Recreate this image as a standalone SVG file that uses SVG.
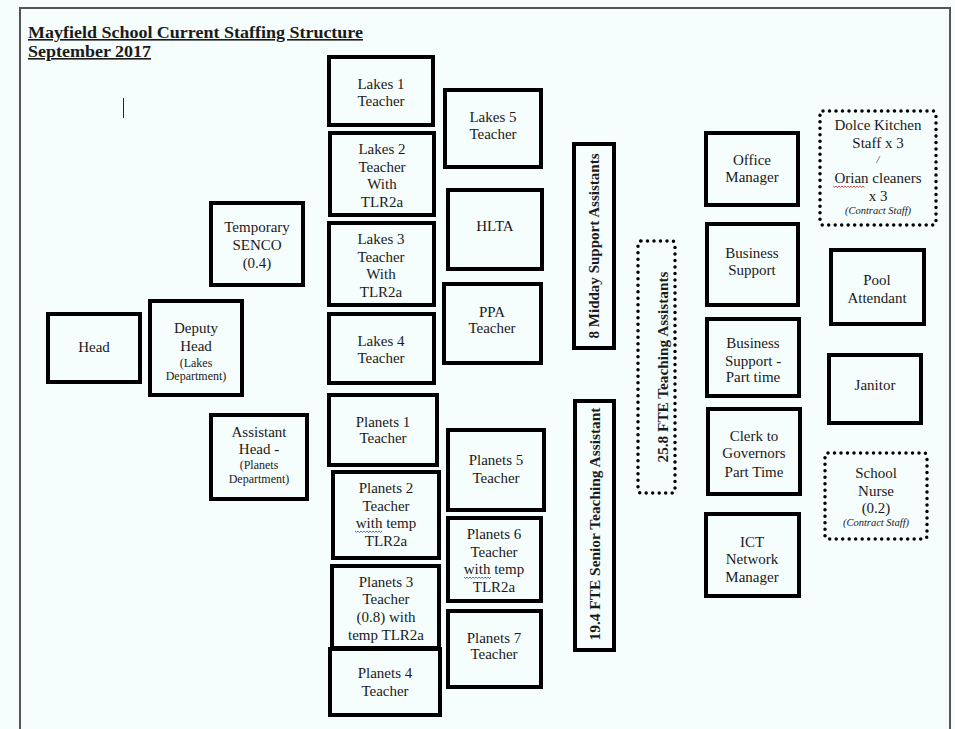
<svg xmlns="http://www.w3.org/2000/svg" width="955" height="729" viewBox="0 0 955 729">
<style>
text{font-family:"Liberation Serif",Tinos,"Times New Roman","DejaVu Serif",serif;fill:#1a1a1a;font-size:15px;text-anchor:middle}
.box{fill:none;stroke:#000;stroke-width:4}
.dot{fill:none;stroke:#000;stroke-width:3.5;stroke-dasharray:0 6.5;stroke-linecap:round;stroke-linejoin:round}
.sm{font-size:12px}
.it{font-size:10.5px;font-style:italic}
.vt{font-weight:bold;font-size:14px}
.ttl{font-weight:bold;font-size:16px;text-anchor:start;text-decoration:underline}
.wavy{fill:none;stroke-width:0.8}
</style>
<rect x="0" y="0" width="955" height="729" fill="#f6fdfd"/>
<path d="M20 729V8H950V729" fill="none" stroke="#555" stroke-width="2"/>
<g id="title">
<text class="ttl" x="28" y="38" textLength="335" lengthAdjust="spacingAndGlyphs">Mayfield School Current Staffing Structure</text>
<text class="ttl" x="28" y="57" textLength="123" lengthAdjust="spacingAndGlyphs">September 2017</text>
<line x1="123.5" y1="98" x2="123.5" y2="118" stroke="#222" stroke-width="1"/>
</g>
<g id="connectors"></g>
<g id="head"><rect class="box" x="48" y="314" width="92" height="68"/><text x="94" y="352">Head</text></g>
<g id="deputy-head"><rect class="box" x="150" y="301" width="92" height="94"/><text x="196" y="333">Deputy</text><text x="196" y="351">Head</text><text class="sm" x="196" y="367">(Lakes</text><text class="sm" x="196" y="380">Department)</text></g>
<g id="senco"><rect class="box" x="211" y="203" width="92" height="82"/><text x="257" y="232">Temporary</text><text x="257" y="250">SENCO</text><text x="257" y="268">(0.4)</text></g>
<g id="assistant-head"><rect class="box" x="211" y="415" width="96" height="84"/><text x="259" y="437">Assistant</text><text x="259" y="454">Head -</text><text class="sm" x="259" y="469">(Planets</text><text class="sm" x="259" y="483">Department)</text></g>
<g id="lakes1"><rect class="box" x="329" y="57" width="104" height="68"/><text x="381" y="89">Lakes 1</text><text x="381" y="106">Teacher</text></g>
<g id="lakes2"><rect class="box" x="330" y="133" width="104" height="82"/><text x="382" y="154">Lakes 2</text><text x="382" y="172">Teacher</text><text x="382" y="189">With</text><text x="382" y="207">TLR2a</text></g>
<g id="lakes3"><rect class="box" x="329" y="223" width="105" height="82"/><text x="381" y="244">Lakes 3</text><text x="381" y="262">Teacher</text><text x="381" y="279">With</text><text x="381" y="297">TLR2a</text></g>
<g id="lakes4"><rect class="box" x="329" y="314" width="105" height="69"/><text x="381" y="346">Lakes 4</text><text x="381" y="363">Teacher</text></g>
<g id="lakes5"><rect class="box" x="445" y="90" width="96" height="77"/><text x="493" y="122">Lakes 5</text><text x="493" y="139">Teacher</text></g>
<g id="hlta"><rect class="box" x="448" y="190" width="94" height="79"/><text x="495" y="231">HLTA</text></g>
<g id="ppa"><rect class="box" x="444" y="284" width="97" height="79"/><text x="492" y="317">PPA</text><text x="492" y="333">Teacher</text></g>
<g id="planets1"><rect class="box" x="329" y="395" width="108" height="70"/><text x="383" y="427">Planets 1</text><text x="383" y="443">Teacher</text></g>
<g id="planets2"><rect class="box" x="333" y="472" width="106" height="86"/><text x="386" y="493">Planets 2</text><text x="386" y="511">Teacher</text><text x="386" y="528">with temp</text><text x="386" y="546">TLR2a</text><path class="wavy" stroke="#3344dd" d="M355 531l1.5 1.5 1.5-1.5 1.5 1.5 1.5-1.5 1.5 1.5 1.5-1.5 1.5 1.5 1.5-1.5 1.5 1.5 1.5-1.5 1.5 1.5 1.5-1.5 1.5 1.5 1.5-1.5 1.5 1.5 1.5-1.5 1.5 1.5 1.5-1.5"/></g>
<g id="planets3"><rect class="box" x="332" y="566" width="107" height="82"/><text x="386" y="587">Planets 3</text><text x="386" y="604">Teacher</text><text x="386" y="622">(0.8) with</text><text x="386" y="640">temp TLR2a</text></g>
<g id="planets4"><rect class="box" x="330" y="649" width="110" height="66"/><text x="385" y="678">Planets 4</text><text x="385" y="696">Teacher</text></g>
<g id="planets5"><rect class="box" x="448" y="430" width="96" height="80"/><text x="496" y="465">Planets 5</text><text x="496" y="483">Teacher</text></g>
<g id="planets6"><rect class="box" x="448" y="518" width="93" height="83"/><text x="494" y="539">Planets 6</text><text x="494" y="557">Teacher</text><text x="494" y="574">with temp</text><text x="494" y="592">TLR2a</text><path class="wavy" stroke="#3344dd" d="M464 577l1.5 1.5 1.5-1.5 1.5 1.5 1.5-1.5 1.5 1.5 1.5-1.5 1.5 1.5 1.5-1.5 1.5 1.5 1.5-1.5 1.5 1.5 1.5-1.5 1.5 1.5 1.5-1.5 1.5 1.5 1.5-1.5 1.5 1.5 1.5-1.5"/></g>
<g id="planets7"><rect class="box" x="448" y="611" width="93" height="76"/><text x="494" y="643">Planets 7</text><text x="494" y="659">Teacher</text></g>
<g id="midday"><rect class="box" x="574" y="144" width="40" height="204"/><text class="vt" transform="translate(599 246) rotate(-90)" textLength="185" lengthAdjust="spacingAndGlyphs">8 Midday Support Assistants</text></g>
<g id="senior-ta"><rect class="box" x="575" y="401" width="39" height="249"/><text class="vt" transform="translate(600 524) rotate(-90)" textLength="233" lengthAdjust="spacingAndGlyphs">19.4 FTE Senior Teaching Assistant</text></g>
<g id="ta"><rect class="dot" x="638" y="241" width="37" height="252" rx="3"/><text class="vt" transform="translate(668 367) rotate(-90)" textLength="191" lengthAdjust="spacingAndGlyphs">25.8 FTE Teaching Assistants</text></g>
<g id="office-manager"><rect class="box" x="706" y="133" width="92" height="72"/><text x="752" y="165">Office</text><text x="752" y="182">Manager</text></g>
<g id="business-support"><rect class="box" x="707" y="224" width="91" height="81"/><text x="752" y="258">Business</text><text x="752" y="275">Support</text></g>
<g id="business-support-pt"><rect class="box" x="707" y="319" width="92" height="77"/><text x="753" y="348">Business</text><text x="753" y="366">Support -</text><text x="753" y="382">Part time</text></g>
<g id="clerk"><rect class="box" x="708" y="409" width="92" height="85"/><text x="754" y="441">Clerk to</text><text x="754" y="458">Governors</text><text x="754" y="477">Part Time</text></g>
<g id="ict"><rect class="box" x="706" y="514" width="93" height="82"/><text x="752" y="547">ICT</text><text x="752" y="564">Network</text><text x="752" y="582">Manager</text></g>
<g id="dolce"><rect class="dot" x="820" y="111" width="116" height="114" rx="3"/><text x="878" y="130">Dolce Kitchen</text><text x="878" y="148">Staff x 3</text><text class="it" x="878" y="163">/</text><text x="878" y="183">Orian cleaners</text><text x="878" y="201">x 3</text><text class="it" x="878" y="214">(Contract Staff)</text><path class="wavy" stroke="#dd2222" d="M833 186l1.5 1.5 1.5-1.5 1.5 1.5 1.5-1.5 1.5 1.5 1.5-1.5 1.5 1.5 1.5-1.5 1.5 1.5 1.5-1.5 1.5 1.5 1.5-1.5 1.5 1.5 1.5-1.5 1.5 1.5 1.5-1.5 1.5 1.5 1.5-1.5 1.5 1.5 1.5-1.5 1.5 1.5"/></g>
<g id="pool"><rect class="box" x="831" y="250" width="93" height="74"/><text x="877" y="285">Pool</text><text x="877" y="303">Attendant</text></g>
<g id="janitor"><rect class="box" x="829" y="355" width="92" height="68"/><text x="875" y="390">Janitor</text></g>
<g id="nurse"><rect class="dot" x="825" y="453" width="102" height="86" rx="3"/><text x="876" y="478">School</text><text x="876" y="496">Nurse</text><text x="876" y="513">(0.2)</text><text class="it" x="876" y="526">(Contract Staff)</text></g>
</svg>
